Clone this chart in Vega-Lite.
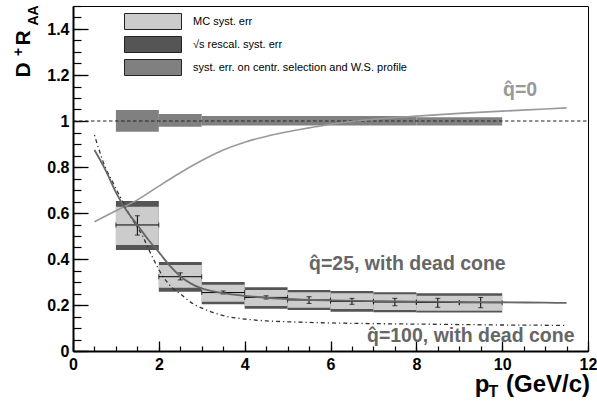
{
  "$schema": "https://vega.github.io/schema/vega-lite/v6.json",
  "width": 515,
  "height": 345,
  "autosize": {"type": "none"},
  "padding": {"left": 73, "top": 6, "right": 9, "bottom": 50},
  "background": "white",
  "config": {
    "font": "Liberation Sans",
    "view": {"stroke": "#000", "strokeWidth": 1},
    "axis": {"grid": false, "title": null, "labelFont": "Liberation Sans", "labelFontWeight": "bold", "labelFontSize": 16, "labelColor": "#000", "domainColor": "#000", "tickColor": "#000", "labelFlush": false, "labelOverlap": false},
    "legend": {"labelFont": "Liberation Sans", "labelFontSize": 11, "labelColor": "#000", "labelLimit": 400, "symbolStrokeColor": "#222", "symbolStrokeWidth": 1}
  },
  "datasets": {
    "boxes": [
      {"type": "syst. err. on centr. selection and W.S. profile", "x0": 1, "x1": 2, "lo": 0.953, "hi": 1.048},
      {"type": "syst. err. on centr. selection and W.S. profile", "x0": 2, "x1": 3, "lo": 0.975, "hi": 1.030},
      {"type": "syst. err. on centr. selection and W.S. profile", "x0": 3, "x1": 8, "lo": 0.980, "hi": 1.022},
      {"type": "syst. err. on centr. selection and W.S. profile", "x0": 8, "x1": 10, "lo": 0.980, "hi": 1.016},
      {"type": "√s rescal. syst. err", "x0": 1, "x1": 2, "lo": 0.439, "hi": 0.652},
      {"type": "√s rescal. syst. err", "x0": 2, "x1": 3, "lo": 0.258, "hi": 0.387},
      {"type": "√s rescal. syst. err", "x0": 3, "x1": 4, "lo": 0.203, "hi": 0.300},
      {"type": "√s rescal. syst. err", "x0": 4, "x1": 5, "lo": 0.184, "hi": 0.277},
      {"type": "√s rescal. syst. err", "x0": 5, "x1": 6, "lo": 0.178, "hi": 0.265},
      {"type": "√s rescal. syst. err", "x0": 6, "x1": 7, "lo": 0.171, "hi": 0.261},
      {"type": "√s rescal. syst. err", "x0": 7, "x1": 8, "lo": 0.168, "hi": 0.255},
      {"type": "√s rescal. syst. err", "x0": 8, "x1": 10, "lo": 0.167, "hi": 0.251},
      {"type": "MC syst. err", "x0": 1, "x1": 2, "lo": 0.461, "hi": 0.627},
      {"type": "MC syst. err", "x0": 2, "x1": 3, "lo": 0.275, "hi": 0.374},
      {"type": "MC syst. err", "x0": 3, "x1": 4, "lo": 0.214, "hi": 0.288},
      {"type": "MC syst. err", "x0": 4, "x1": 5, "lo": 0.196, "hi": 0.265},
      {"type": "MC syst. err", "x0": 5, "x1": 6, "lo": 0.188, "hi": 0.255},
      {"type": "MC syst. err", "x0": 6, "x1": 7, "lo": 0.183, "hi": 0.251},
      {"type": "MC syst. err", "x0": 7, "x1": 8, "lo": 0.178, "hi": 0.247},
      {"type": "MC syst. err", "x0": 8, "x1": 10, "lo": 0.175, "hi": 0.240}
    ],
    "points": [
      {"x0": 1, "x1": 2, "xc": 1.5, "val": 0.548, "lo": 0.504, "hi": 0.588},
      {"x0": 2, "x1": 3, "xc": 2.5, "val": 0.323, "lo": 0.309, "hi": 0.340},
      {"x0": 3, "x1": 4, "xc": 3.5, "val": 0.254, "lo": 0.248, "hi": 0.261},
      {"x0": 4, "x1": 5, "xc": 4.5, "val": 0.233, "lo": 0.226, "hi": 0.240},
      {"x0": 5, "x1": 6, "xc": 5.5, "val": 0.222, "lo": 0.207, "hi": 0.236},
      {"x0": 6, "x1": 7, "xc": 6.5, "val": 0.216, "lo": 0.203, "hi": 0.229},
      {"x0": 7, "x1": 8, "xc": 7.5, "val": 0.213, "lo": 0.197, "hi": 0.229},
      {"x0": 8, "x1": 9, "xc": 8.5, "val": 0.211, "lo": 0.190, "hi": 0.229},
      {"x0": 9, "x1": 10, "xc": 9.5, "val": 0.210, "lo": 0.188, "hi": 0.233}
    ],
    "curves": [
      {"series": "q0", "pt": 0.5, "r": 0.562},
      {"series": "q0", "pt": 1.0, "r": 0.610},
      {"series": "q0", "pt": 1.5, "r": 0.657},
      {"series": "q0", "pt": 2.0, "r": 0.717},
      {"series": "q0", "pt": 2.5, "r": 0.775},
      {"series": "q0", "pt": 3.0, "r": 0.828},
      {"series": "q0", "pt": 3.5, "r": 0.874},
      {"series": "q0", "pt": 4.0, "r": 0.908},
      {"series": "q0", "pt": 4.5, "r": 0.933},
      {"series": "q0", "pt": 5.0, "r": 0.953},
      {"series": "q0", "pt": 5.5, "r": 0.970},
      {"series": "q0", "pt": 6.0, "r": 0.986},
      {"series": "q0", "pt": 6.5, "r": 0.998},
      {"series": "q0", "pt": 7.0, "r": 1.007},
      {"series": "q0", "pt": 8.0, "r": 1.021},
      {"series": "q0", "pt": 9.0, "r": 1.033},
      {"series": "q0", "pt": 10.0, "r": 1.043},
      {"series": "q0", "pt": 11.0, "r": 1.052},
      {"series": "q0", "pt": 11.5, "r": 1.057},
      {"series": "q25", "pt": 0.5, "r": 0.874},
      {"series": "q25", "pt": 0.75, "r": 0.790},
      {"series": "q25", "pt": 1.0, "r": 0.690},
      {"series": "q25", "pt": 1.25, "r": 0.610},
      {"series": "q25", "pt": 1.5, "r": 0.548},
      {"series": "q25", "pt": 1.75, "r": 0.485},
      {"series": "q25", "pt": 2.0, "r": 0.430},
      {"series": "q25", "pt": 2.25, "r": 0.372},
      {"series": "q25", "pt": 2.5, "r": 0.325},
      {"series": "q25", "pt": 2.75, "r": 0.293},
      {"series": "q25", "pt": 3.0, "r": 0.272},
      {"series": "q25", "pt": 3.5, "r": 0.252},
      {"series": "q25", "pt": 4.0, "r": 0.240},
      {"series": "q25", "pt": 5.0, "r": 0.226},
      {"series": "q25", "pt": 6.0, "r": 0.220},
      {"series": "q25", "pt": 7.0, "r": 0.217},
      {"series": "q25", "pt": 8.0, "r": 0.215},
      {"series": "q25", "pt": 9.0, "r": 0.213},
      {"series": "q25", "pt": 10.0, "r": 0.212},
      {"series": "q25", "pt": 11.0, "r": 0.210},
      {"series": "q25", "pt": 11.5, "r": 0.209},
      {"series": "q100", "pt": 0.5, "r": 0.939},
      {"series": "q100", "pt": 0.75, "r": 0.800},
      {"series": "q100", "pt": 0.94, "r": 0.729},
      {"series": "q100", "pt": 1.1, "r": 0.670},
      {"series": "q100", "pt": 1.32, "r": 0.591},
      {"series": "q100", "pt": 1.63, "r": 0.497},
      {"series": "q100", "pt": 1.79, "r": 0.432},
      {"series": "q100", "pt": 2.1, "r": 0.323},
      {"series": "q100", "pt": 2.33, "r": 0.272},
      {"series": "q100", "pt": 2.5, "r": 0.248},
      {"series": "q100", "pt": 2.8, "r": 0.205},
      {"series": "q100", "pt": 3.05, "r": 0.183},
      {"series": "q100", "pt": 3.5, "r": 0.154},
      {"series": "q100", "pt": 4.0, "r": 0.139},
      {"series": "q100", "pt": 4.5, "r": 0.131},
      {"series": "q100", "pt": 5.0, "r": 0.127},
      {"series": "q100", "pt": 6.0, "r": 0.122},
      {"series": "q100", "pt": 7.0, "r": 0.119},
      {"series": "q100", "pt": 8.0, "r": 0.117},
      {"series": "q100", "pt": 9.0, "r": 0.115},
      {"series": "q100", "pt": 10.0, "r": 0.113},
      {"series": "q100", "pt": 11.0, "r": 0.112},
      {"series": "q100", "pt": 11.5, "r": 0.111}
    ]
  },
  "layer": [
    {
      "data": {"name": "boxes"},
      "mark": {"type": "rect"},
      "encoding": {
        "x": {"field": "x0", "type": "quantitative", "scale": {"domain": [0, 12], "nice": false, "zero": false},
          "axis": {"orient": "bottom", "values": [0, 2, 4, 6, 8, 10, 12], "tickSize": -10, "tickWidth": 1.3, "labelPadding": 15, "domainWidth": 2}},
        "x2": {"field": "x1"},
        "y": {"field": "lo", "type": "quantitative", "scale": {"domain": [0, 1.5], "nice": false, "zero": false},
          "axis": {"orient": "left", "values": [0, 0.2, 0.4, 0.6, 0.8, 1, 1.2, 1.4], "format": "~g", "tickSize": -15, "tickWidth": 1.3, "labelPadding": 19, "domainWidth": 2}},
        "y2": {"field": "hi"},
        "color": {"field": "type", "type": "nominal",
          "scale": {"domain": ["MC syst. err", "√s rescal. syst. err", "syst. err. on centr. selection and W.S. profile"], "range": ["#cccccc", "#555555", "#808080"]},
          "legend": {"orient": "none", "legendX": 51, "legendY": 6.5, "title": null, "symbolType": "M-1,-0.281H1V0.281H-1Z", "symbolSize": 3249, "symbolOpacity": 1, "labelOffset": 11, "clipHeight": 18, "rowPadding": 5, "padding": 0}
        }
      }
    },
    {
      "data": {"values": [{"v": 1}]},
      "mark": {"type": "rule", "color": "#222", "strokeWidth": 1.2, "strokeDash": [3.5, 2.5]},
      "encoding": {
        "x": {"datum": 0, "type": "quantitative", "axis": {"orient": "bottom", "values": [0, 0.5, 1, 1.5, 2, 2.5, 3, 3.5, 4, 4.5, 5, 5.5, 6, 6.5, 7, 7.5, 8, 8.5, 9, 9.5, 10, 10.5, 11, 11.5, 12], "tickSize": -5, "tickWidth": 1.2, "labels": false, "domain": false}},
        "x2": {"datum": 12},
        "y": {"field": "v", "type": "quantitative", "axis": {"orient": "left", "values": [0, 0.05, 0.1, 0.15, 0.2, 0.25, 0.3, 0.35, 0.4, 0.45, 0.5, 0.55, 0.6, 0.65, 0.7, 0.75, 0.8, 0.85, 0.9, 0.95, 1, 1.05, 1.1, 1.15, 1.2, 1.25, 1.3, 1.35, 1.4, 1.45, 1.5], "tickSize": -8, "tickWidth": 1.2, "labels": false, "domain": false}}
      }
    },
    {
      "data": {"name": "curves"},
      "transform": [{"filter": "datum.series === 'q0'"}],
      "mark": {"type": "line", "color": "#999999", "strokeWidth": 1.6, "interpolate": "monotone"},
      "encoding": {"x": {"field": "pt", "type": "quantitative", "axis": null}, "y": {"field": "r", "type": "quantitative", "axis": null}}
    },
    {
      "data": {"name": "curves"},
      "transform": [{"filter": "datum.series === 'q100'"}],
      "mark": {"type": "line", "color": "#333333", "strokeWidth": 1.3, "strokeDash": [1.2, 3, 4, 3], "interpolate": "monotone"},
      "encoding": {"x": {"field": "pt", "type": "quantitative", "axis": null}, "y": {"field": "r", "type": "quantitative", "axis": null}}
    },
    {
      "data": {"name": "points"},
      "mark": {"type": "rule", "color": "#000", "strokeWidth": 1},
      "encoding": {"x": {"field": "x0", "type": "quantitative", "axis": null}, "x2": {"field": "x1"}, "y": {"field": "val", "type": "quantitative", "axis": null}}
    },
    {
      "data": {"name": "points"},
      "mark": {"type": "rule", "color": "#000", "strokeWidth": 1},
      "encoding": {"x": {"field": "xc", "type": "quantitative", "axis": null}, "y": {"field": "lo", "type": "quantitative", "axis": null}, "y2": {"field": "hi"}}
    },
    {
      "data": {"name": "points"},
      "mark": {"type": "tick", "orient": "vertical", "color": "#000", "size": 5, "thickness": 1},
      "encoding": {"x": {"field": "x0", "type": "quantitative", "axis": null}, "y": {"field": "val", "type": "quantitative", "axis": null}}
    },
    {
      "data": {"name": "points"},
      "mark": {"type": "tick", "orient": "vertical", "color": "#000", "size": 5, "thickness": 1},
      "encoding": {"x": {"field": "x1", "type": "quantitative", "axis": null}, "y": {"field": "val", "type": "quantitative", "axis": null}}
    },
    {
      "data": {"name": "points"},
      "mark": {"type": "tick", "orient": "horizontal", "color": "#000", "size": 5, "thickness": 1},
      "encoding": {"x": {"field": "xc", "type": "quantitative", "axis": null}, "y": {"field": "lo", "type": "quantitative", "axis": null}}
    },
    {
      "data": {"name": "points"},
      "mark": {"type": "tick", "orient": "horizontal", "color": "#000", "size": 5, "thickness": 1},
      "encoding": {"x": {"field": "xc", "type": "quantitative", "axis": null}, "y": {"field": "hi", "type": "quantitative", "axis": null}}
    },
    {
      "data": {"name": "curves"},
      "transform": [{"filter": "datum.series === 'q25'"}],
      "mark": {"type": "line", "color": "#666666", "strokeWidth": 1.8, "interpolate": "monotone"},
      "encoding": {"x": {"field": "pt", "type": "quantitative", "axis": null}, "y": {"field": "r", "type": "quantitative", "axis": null}}
    },
    {
      "data": {"values": [{"t": "q̂=0", "x": 10.02, "y": 1.109}]},
      "mark": {"type": "text", "font": "Liberation Sans", "fontWeight": "bold", "fontSize": 19.5, "color": "#999999", "align": "left", "baseline": "alphabetic"},
      "encoding": {"x": {"field": "x", "type": "quantitative", "axis": null}, "y": {"field": "y", "type": "quantitative", "axis": null}, "text": {"field": "t"}}
    },
    {
      "data": {"values": [{"t": "q̂=25, with dead cone", "x": 5.50, "y": 0.352}, {"t": "q̂=100, with dead cone", "x": 6.85, "y": 0.040}]},
      "mark": {"type": "text", "font": "Liberation Sans", "fontWeight": "bold", "fontSize": 19.5, "color": "#666666", "align": "left", "baseline": "alphabetic"},
      "encoding": {"x": {"field": "x", "type": "quantitative", "axis": null}, "y": {"field": "y", "type": "quantitative", "axis": null}, "text": {"field": "t"}}
    },
    {
      "data": {"values": [{"t": "D", "x": -1.0, "y": 1.189}, {"t": "R", "x": -1.0, "y": 1.328}]},
      "mark": {"type": "text", "font": "Liberation Sans", "fontWeight": "bold", "fontSize": 21, "color": "#000", "align": "left", "baseline": "alphabetic", "angle": 270},
      "encoding": {"x": {"field": "x", "type": "quantitative", "axis": null}, "y": {"field": "y", "type": "quantitative", "axis": null}, "text": {"field": "t"}}
    },
    {
      "data": {"values": [{"t": "+", "x": -1.165, "y": 1.283}, {"t": "AA", "x": -0.815, "y": 1.415}]},
      "mark": {"type": "text", "font": "Liberation Sans", "fontWeight": "bold", "fontSize": 14, "color": "#000", "align": "left", "baseline": "alphabetic", "angle": 270},
      "encoding": {"x": {"field": "x", "type": "quantitative", "axis": null}, "y": {"field": "y", "type": "quantitative", "axis": null}, "text": {"field": "t"}}
    },
    {
      "data": {"values": [{"t": "(GeV/c)", "x": 12.047, "y": -0.178}]},
      "mark": {"type": "text", "font": "Liberation Sans", "fontWeight": "bold", "fontSize": 24, "color": "#000", "align": "right", "baseline": "alphabetic"},
      "encoding": {"x": {"field": "x", "type": "quantitative", "axis": null}, "y": {"field": "y", "type": "quantitative", "axis": null}, "text": {"field": "t"}}
    },
    {
      "data": {"values": [{"t": "p", "x": 9.36, "y": -0.178}]},
      "mark": {"type": "text", "font": "Liberation Sans", "fontWeight": "bold", "fontSize": 24, "color": "#000", "align": "left", "baseline": "alphabetic"},
      "encoding": {"x": {"field": "x", "type": "quantitative", "axis": null}, "y": {"field": "y", "type": "quantitative", "axis": null}, "text": {"field": "t"}}
    },
    {
      "data": {"values": [{"t": "T", "x": 9.68, "y": -0.2}]},
      "mark": {"type": "text", "font": "Liberation Sans", "fontWeight": "bold", "fontSize": 16, "color": "#000", "align": "left", "baseline": "alphabetic"},
      "encoding": {"x": {"field": "x", "type": "quantitative", "axis": null}, "y": {"field": "y", "type": "quantitative", "axis": null}, "text": {"field": "t"}}
    }
  ],
  "resolve": {"axis": {"x": "independent", "y": "independent"}}
}
